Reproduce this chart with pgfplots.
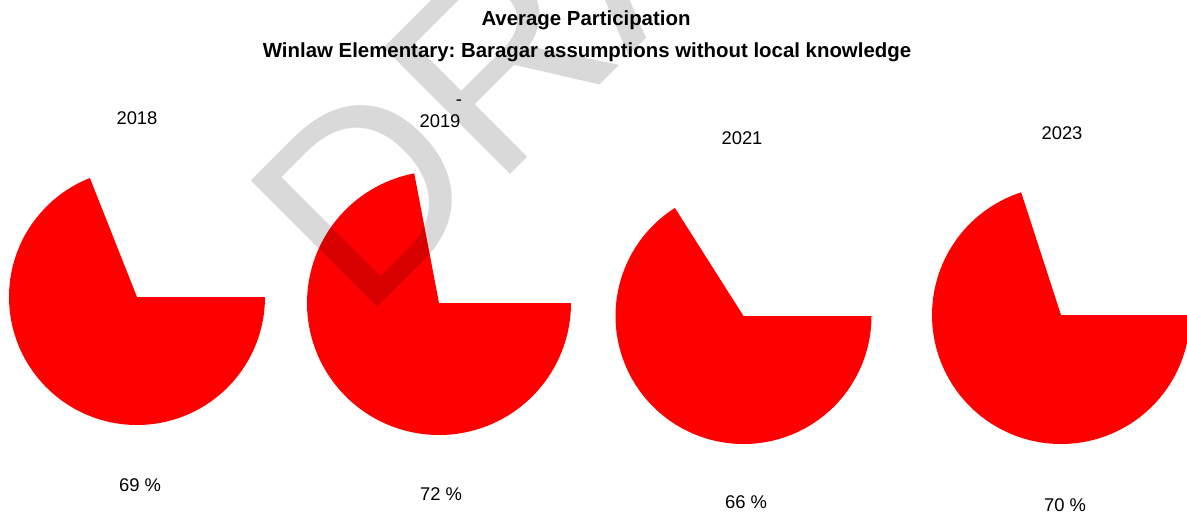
\documentclass[border=0pt]{standalone}
\usepackage{pgfplots}
\pgfplotsset{compat=1.18}
\usepackage{fontspec}
\setmainfont{Liberation Sans}
\frenchspacing

% pie centres and radii in pixel units of the 1187x516 canvas
\newcommand{\pie}[4]{% cx, cy, r, percent
  \addplot[draw=none, fill=red, domain=0:{3.6*#4}, samples=120, variable=\t]
    ({#1+#3*cos(\t)}, {#2+#3*sin(\t)}) -- (axis cs:#1,#2) -- cycle;
}

\begin{document}
\begin{tikzpicture}
\begin{axis}[
    width=593.5pt, height=258pt, scale only axis,
    xmin=0, xmax=1187, ymin=0, ymax=516,
    y dir=reverse,
    hide axis,
]
\pie{137}{297}{128}{69}
\pie{439}{303}{132}{72}
\pie{743.5}{316}{128}{66}
\pie{1061}{315}{129}{70}

\node[font=\bfseries\fontsize{10.2}{11}\selectfont] at (axis cs:586,20) {Average Participation};
\node[font=\bfseries\fontsize{10.2}{11}\selectfont] at (axis cs:587,52) {Winlaw Elementary: Baragar assumptions without local knowledge};

\node[font=\fontsize{9.2}{10}\selectfont] at (axis cs:137,118) {2018};
\node[font=\fontsize{9.2}{10}\selectfont] at (axis cs:440,121) {2019};
\node[font=\fontsize{9.2}{10}\selectfont] at (axis cs:742,138) {2021};
\node[font=\fontsize{9.2}{10}\selectfont] at (axis cs:1062,133) {2023};
\node[font=\fontsize{9.2}{10}\selectfont, inner sep=0pt] at (axis cs:459,103) {-};

\node[font=\fontsize{9.2}{10}\selectfont] at (axis cs:140,485) {69 \%};
\node[font=\fontsize{9.2}{10}\selectfont] at (axis cs:441,494) {72 \%};
\node[font=\fontsize{9.2}{10}\selectfont] at (axis cs:746,502) {66 \%};
\node[font=\fontsize{9.2}{10}\selectfont] at (axis cs:1065,505) {70 \%};

\node[rotate=45, anchor=base west, inner sep=0pt, text=black, text opacity=0.15,
      font=\fontsize{130}{130}\selectfont] at (axis cs:362.5,322.5) {DRAFT};
\end{axis}
\pgfresetboundingbox
\path (current axis.south west) rectangle (current axis.north east);
\end{tikzpicture}
\end{document}
